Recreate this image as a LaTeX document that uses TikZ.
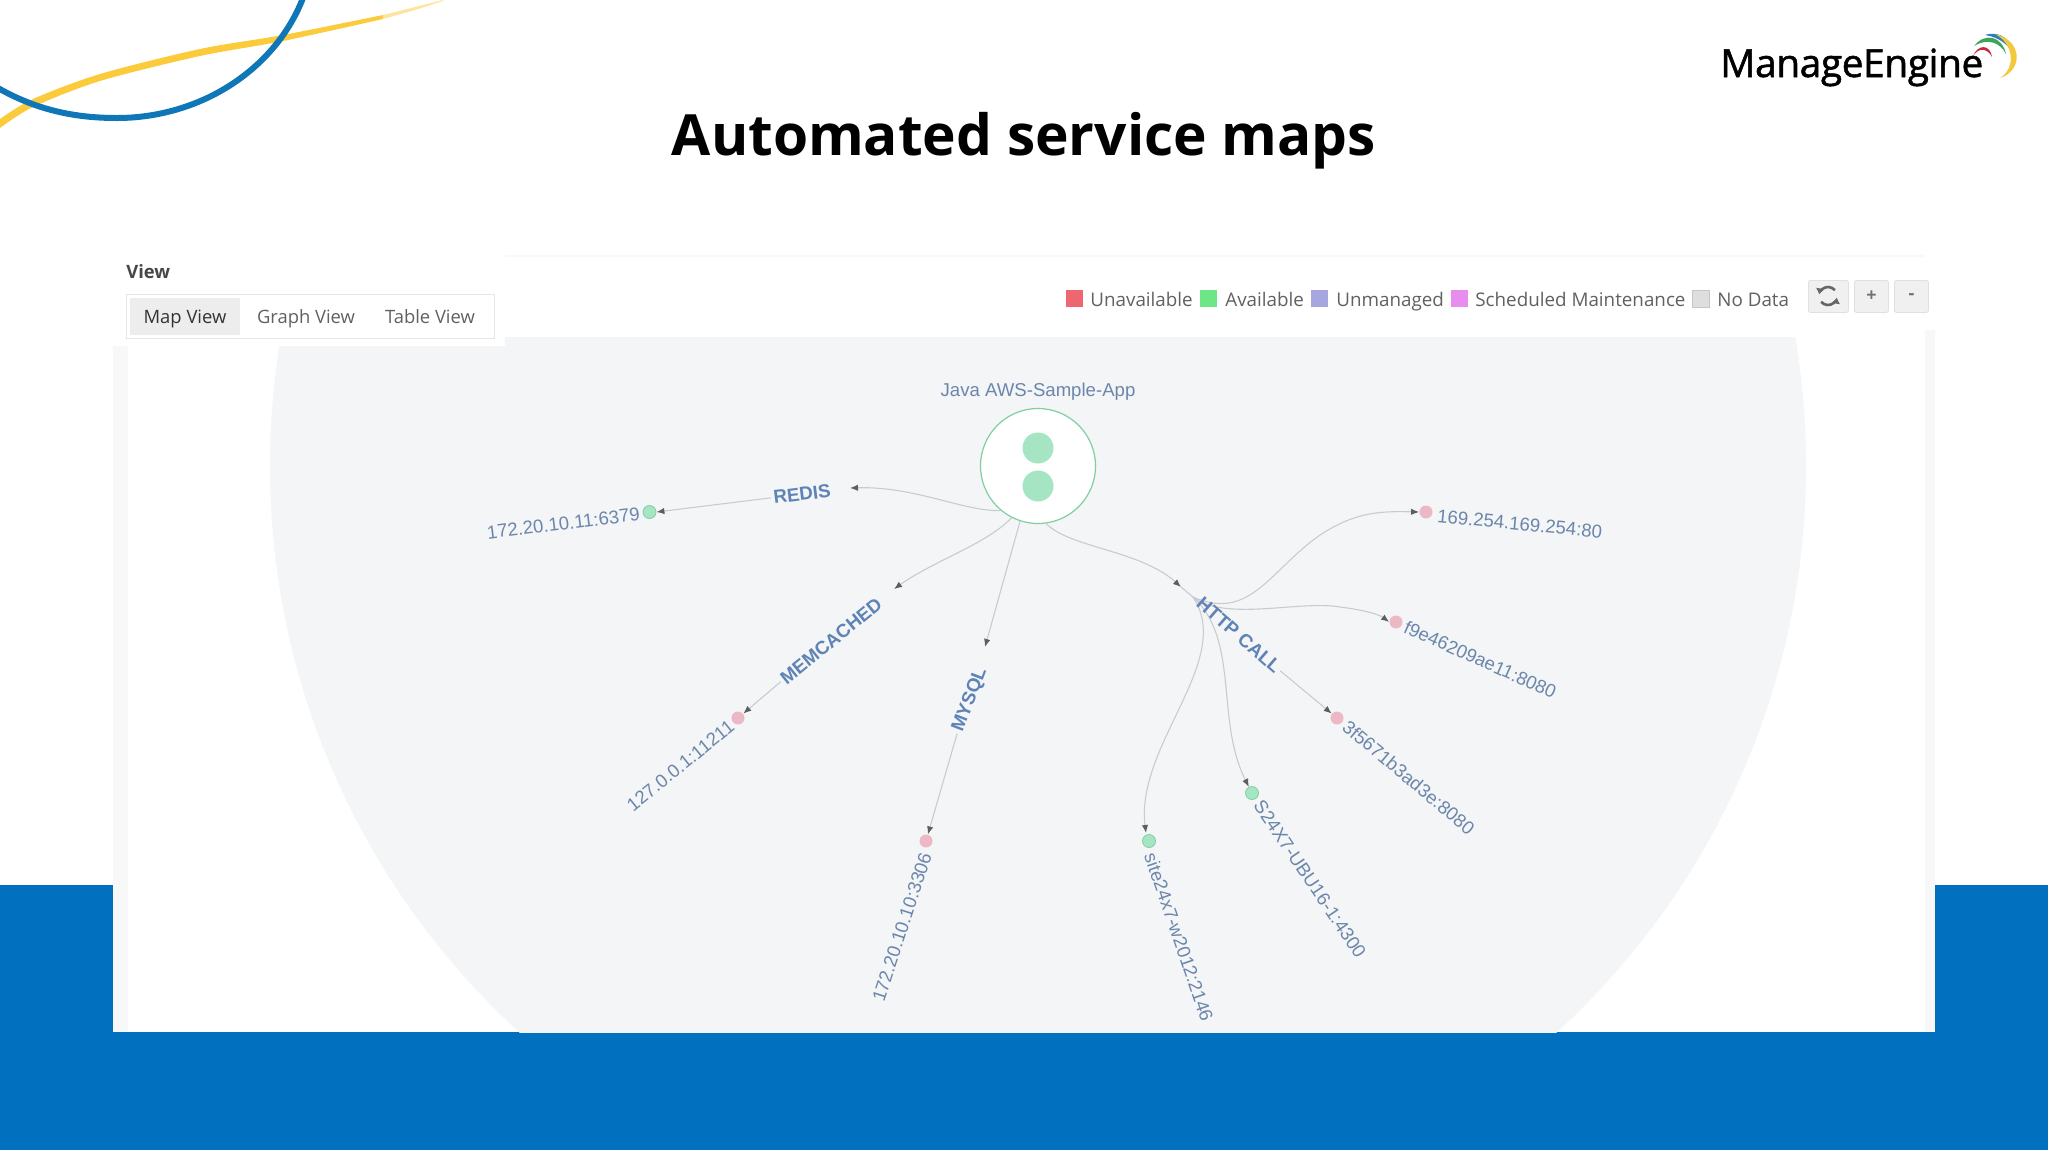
\documentclass[tikz,border=0pt]{standalone}
\usepackage{fontspec}
\usepackage{xcolor}
\usepackage{tikz}
\usetikzlibrary{arrows.meta}
\setmainfont{Open Sans}
\newfontfamily\mapfont{Liberation Sans}
\definecolor{bandblue}{HTML}{0070BF}
\definecolor{swooshblue}{HTML}{0F76B8}
\definecolor{swooshyellow}{HTML}{FBCB3C}
\definecolor{mapgrey}{HTML}{F3F5F6}
\definecolor{striplight}{HTML}{F8F8F8}
\definecolor{maptext}{HTML}{6C86AB}
\definecolor{edgelabel}{HTML}{5F83B6}
\definecolor{edgegrey}{HTML}{C9CCCE}
\definecolor{tipgrey}{HTML}{5C5F62}
\definecolor{downpink}{HTML}{EDB8C5}
\definecolor{uppale}{HTML}{A6E5C3}
\definecolor{upline}{HTML}{7FCFA0}
\definecolor{legred}{HTML}{EE6670}
\definecolor{leggreen}{HTML}{6CE687}
\definecolor{legblue}{HTML}{A6A6E0}
\definecolor{legpink}{HTML}{E98CEF}
\definecolor{leggrey}{HTML}{DEDEDE}
\definecolor{arcred}{HTML}{C8283C}
\definecolor{arcgreen}{HTML}{3FA45B}
\definecolor{arcblue}{HTML}{2E7FBF}
\definecolor{arcyellow}{HTML}{F3C93B}
\begin{document}
\begin{tikzpicture}[x=0.5pt,y=-0.5pt,
        leaftext/.style={font=\mapfont\fontsize{9.3}{11}\selectfont,text=maptext,inner sep=0pt},
        proto/.style={font=\mapfont\bfseries\fontsize{9.4}{11}\selectfont,text=edgelabel,inner sep=1pt},
        downdot/.style={circle,fill=downpink,minimum size=6.5pt,inner sep=0pt},
        updot/.style={circle,fill=uppale,draw=upline,line width=0.4pt,minimum size=6.5pt,inner sep=0pt},
        link/.style={draw=edgegrey,line width=0.55pt,-{Latex[length=4pt,width=3.2pt,color=tipgrey]}},
        legtext/.style={font=\fontsize{9.4}{11}\selectfont,text=black!62,anchor=base west,inner sep=0pt},
        legbox/.style={minimum width=8.5pt,minimum height=8.5pt,inner sep=0pt,anchor=north west},
        tabtext/.style={font=\fontsize{9.2}{11}\selectfont,text=black!62,inner sep=0pt,anchor=base},
        toolbtn/.style={draw=black!12,fill=black!6,rounded corners=1pt,minimum height=16pt,inner sep=0pt,anchor=north west}]
        \useasboundingbox (0,0) rectangle (2048,1152);
        \fill[bandblue] (0,885) rectangle (2048,1150);
        \fill[white] (113,255) rectangle (1935,1032);
        \fill[striplight] (113,346) rectangle (128,1032);
        \fill[striplight] (1925,330) rectangle (1935,1032);
        \fill[striplight] (505,255) rectangle (1925,257);
        \begin{scope}
            \clip (128,337) rectangle (1925,1032);
            \fill[mapgrey] (1038,466) circle (768);
        \end{scope}
        \fill[white] (113,258) rectangle (505,346);

        \fill[swooshyellow] plot[smooth] coordinates {(0,119) (33,99) (100,74) (200,49) (283,35) (383,15)} -- plot[smooth] coordinates {(383,19) (283,41) (200,56) (100,81) (33,107) (0,128)} -- cycle;
        \fill[swooshyellow!50] plot[smooth] coordinates {(383,15) (415,7) (443,0)} -- plot[smooth] coordinates {(443,1) (415,10) (383,19)} -- cycle;
        \draw[swooshblue,line width=3pt] (-2,88) .. controls (40,112) and (80,118) .. (117,118) .. controls (200,118) and (275,70) .. (303,-2);

        \node[font=\bfseries\fontsize{28.4}{32}\selectfont,text=black] (title) at (1024,141) {Automated service maps};
        \node[font=\fontsize{19.4}{22}\selectfont\addfontfeature{LetterSpace=-1,FakeBold=1.4},text=black,anchor=base west,inner sep=0pt] (logo) at (1720,77) {ManageEngine};
        \fill[arcred] (1973,56) .. controls (1978,44) and (1990,44) .. (1992,57) .. controls (1987,48) and (1979,47) .. cycle;
        \fill[arcgreen] (1974,46) .. controls (1985,32) and (2002,36) .. (2006,54) .. controls (2000,42) and (1987,38) .. cycle;
        \fill[arcblue] (1985,35) .. controls (2000,30) and (2012,40) .. (2013,54) .. controls (2008,44) and (1998,37) .. cycle;
        \fill[arcyellow] (1995,34) .. controls (2022,40) and (2024,70) .. (2000,78) .. controls (2016,68) and (2014,44) .. cycle;

        \node[font=\bfseries\fontsize{9.2}{11}\selectfont,text=black!72,anchor=west,inner sep=0pt] (viewhead) at (126,272) {View};
        \draw[draw=black!10,fill=white] (126,294) rectangle (494,338);
        \fill[black!7] (130,298) rectangle (240,335);
        \node[tabtext,text=black!80] (mapview) at (185,323) {Map View};
        \node[tabtext] (graphview) at (306,323) {Graph View};
        \node[tabtext] (tableview) at (430,323) {Table View};

        \node[legbox,fill=legred] (legA) at (1066,290) {};
        \node[legtext] at (1090,306) {Unavailable};
        \node[legbox,fill=leggreen] (legB) at (1200,290) {};
        \node[legtext] at (1225,306) {Available};
        \node[legbox,fill=legblue] (legC) at (1311,290) {};
        \node[legtext] at (1336,306) {Unmanaged};
        \node[legbox,fill=legpink] (legD) at (1451,290) {};
        \node[legtext] at (1475,306) {Scheduled Maintenance};
        \node[legbox,fill=leggrey,draw=black!22,line width=0.3pt] (legE) at (1692,290) {};
        \node[legtext] at (1717,306) {No Data};

        \node[toolbtn,minimum width=20pt] (refreshbtn) at (1808,280) {};
        \node[toolbtn,minimum width=17pt] (plusbtn) at (1854,280) {};
        \node[toolbtn,minimum width=17pt] (minusbtn) at (1894,280) {};
        \draw[black!60,line width=1.3pt,-{Latex[length=3pt,width=4.5pt]}] (1834.9,290.2) arc (320:190:9);
        \draw[black!60,line width=1.3pt,-{Latex[length=3pt,width=4.5pt]}] (1821.1,301.8) arc (140:10:9);
        \node[font=\bfseries\fontsize{9}{10}\selectfont,text=black!55,inner sep=0pt] at (plusbtn.center) {+};
        \node[font=\bfseries\fontsize{9}{10}\selectfont,text=black!55,inner sep=0pt] at (minusbtn.center) {-};

        \node[circle,draw=upline,fill=white,line width=0.6pt,minimum size=57.5pt,inner sep=0pt] (java) at (1038,466) {};
        \fill[uppale] (1038,448) circle (15.5);
        \fill[uppale] (1038,486) circle (15.5);
        \node[leaftext] (javalabel) at (1038,392) {Java AWS-Sample-App};

        \node[updot] (redisdot) at (649.5,512) {};
        \node[downdot] (memdot) at (738,718) {};
        \node[downdot] (mysqldot) at (926,841) {};
        \node[updot] (sitedot) at (1149,841) {};
        \node[updot] (ubudot) at (1252,793) {};
        \node[downdot] (fivedot) at (1337,718) {};
        \node[downdot] (ninedot) at (1396,622) {};
        \node[downdot] (metadot) at (1426,512) {};

        \node[leaftext,rotate=7,anchor=east] (redisip) at (640,514) {172.20.10.11:6379};
        \node[leaftext,rotate=39,anchor=east] (memip) at (732,724) {127.0.0.1:11211};
        \node[leaftext,rotate=72,anchor=east] (mysqlip) at (926,853) {172.20.10.10:3306};
        \node[leaftext,rotate=-71,anchor=west] (siteip) at (1150,853) {site24x7-w2012:2146};
        \node[leaftext,rotate=-56,anchor=west] (ubuip) at (1258,802) {S24X7-UBU16-1:4300};
        \node[leaftext,rotate=-40,anchor=west] (fiveip) at (1345,724) {3f5671b3ad3e:8080};
        \node[leaftext,rotate=-24,anchor=west] (nineip) at (1405,626) {f9e46209ae11:8080};
        \node[leaftext,rotate=-5.5,anchor=west] (metaip) at (1437,516) {169.254.169.254:80};

        \node[proto,rotate=7] (redis) at (802,494) {REDIS};
        \node[proto,rotate=39] (memcached) at (831,641) {MEMCACHED};
        \node[proto,rotate=69] (mysql) at (970,700) {MYSQL};
        \coordinate (hub) at (1193,597);

        \path[link] (java.230) .. controls (965,512) and (915,486) .. (850,488);
        \path[link] (redis.west) -- (redisdot.east);
        \path[link] (java.243) .. controls (985,545) and (935,560) .. (894,589);
        \path[link] (memcached.west) -- (memdot);
        \path[link] (java.252) -- (985,647);
        \path[link] (mysql.west) -- (mysqldot);
        \path[link] (java.278) .. controls (1070,548) and (1140,550) .. (1181,587);
        \path[draw=edgegrey,line width=0.55pt] (1181,587) -- (hub);
        \path[link] (hub) .. controls (1250,622) and (1270,570) .. (1320,535) .. controls (1355,512) and (1380,511) .. (metadot.west);
        \path[link] (hub) .. controls (1225,622) and (1300,600) .. (1340,607) .. controls (1365,610) and (1380,615) .. (ninedot.west);
        \path[link] (hub) .. controls (1240,640) and (1215,720) .. (ubudot);
        \path[link] (hub) .. controls (1235,660) and (1135,745) .. (1146,833);
        \node[proto,rotate=-41] (http) at (1239,635) {HTTP CALL};
        \path[link] (http.east) -- (fivedot);
    \end{tikzpicture}
\end{document}
